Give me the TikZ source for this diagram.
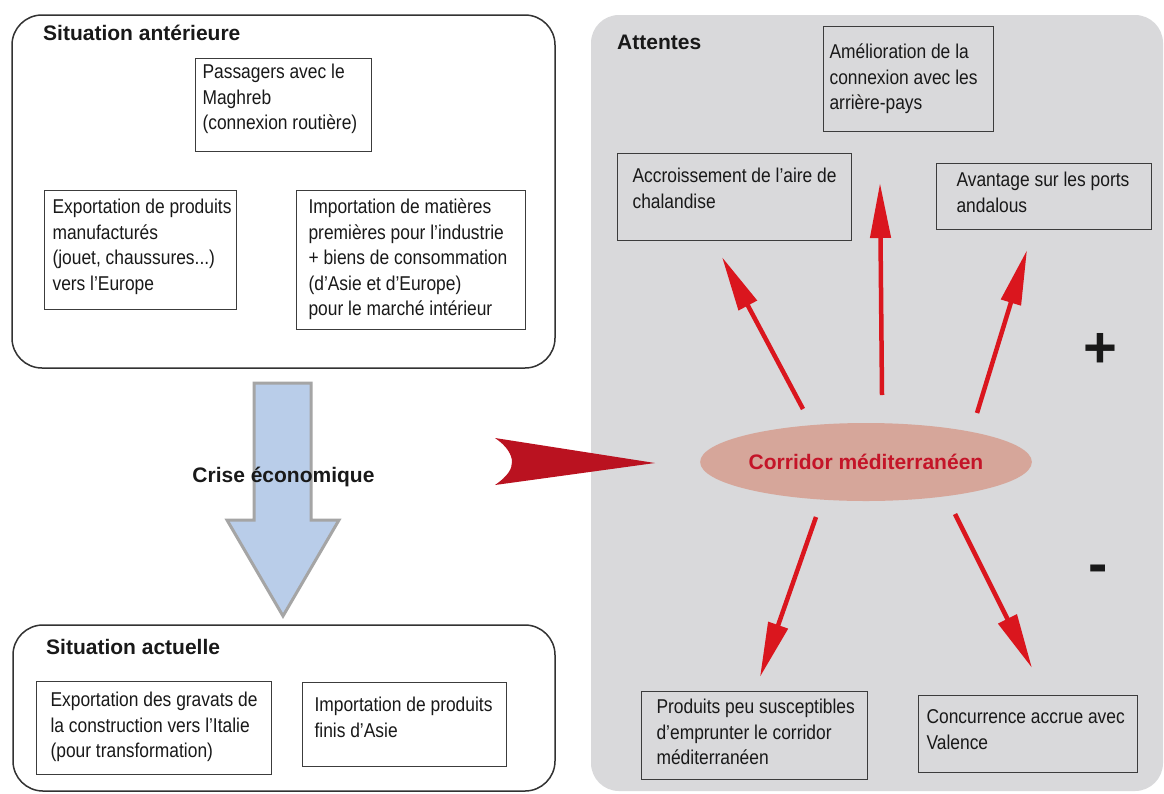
\documentclass[tikz,border=0pt]{standalone}
\usepackage{fontspec}
\setmainfont{Liberation Sans}
\newfontfamily\narrowfont{Liberation Sans}[FakeStretch=0.87]
\usetikzlibrary{arrows.meta,shapes.geometric}
\definecolor{panelgrey}{RGB}{217,217,219}
\definecolor{boxline}{RGB}{60,60,60}
\definecolor{bigline}{RGB}{50,50,50}
\definecolor{textc}{RGB}{25,25,25}
\definecolor{arrowred}{RGB}{218,22,30}
\definecolor{chevred}{RGB}{186,18,32}
\definecolor{ellfill}{RGB}{214,166,154}
\definecolor{elltext}{RGB}{196,20,40}
\definecolor{bluefill}{RGB}{185,205,233}
\definecolor{blueline}{RGB}{165,165,165}
\newcommand\bt[5]{\parbox[t][#2pt][t]{#1pt}{\hspace*{#3pt}\begin{tabular}[t]{@{}l@{}}\rule{0pt}{#4pt}#5\end{tabular}}}
\begin{document}
\begin{tikzpicture}[x=1pt,y=-1pt,
  tbox/.style={draw=boxline, line width=1.1pt, inner sep=0pt, anchor=north west,
    font=\narrowfont\fontsize{20}{25.5}\selectfont, text=textc},
  heading/.style={anchor=base west, font=\bfseries\fontsize{21}{25}\selectfont, text=textc, inner sep=0pt},
  bigbox/.style={draw=bigline, line width=1.5pt, rounded corners=30pt},
  redarrow/.style={draw=arrowred, line width=4.5pt, -{Triangle[length=55pt,width=20pt]}},
  sign/.style={font=\bfseries\fontsize{58}{60}\selectfont, inner sep=0pt, text=textc}]
\useasboundingbox (0,0) rectangle (1164,793);
\fill[white] (0,0) rectangle (1164,793);
% panels
\fill[panelgrey, rounded corners=28pt] (591,15) rectangle (1163,791);
\draw[bigbox] (12,15) rectangle (555,368);
\draw[bigbox] (13,625) rectangle (555,791);
% headings
\node[heading] (h1) at (43,40.5) {Situation antérieure};
\node[heading] (h2) at (46,654.5) {Situation actuelle};
\node[heading] (h3) at (617,49.5) {Attentes};
% boxes left
\node[tbox] (pass) at (195,58) {\bt{176}{93}{7}{20}{Passagers avec le\\Maghreb\\(connexion routière)}};
\node[tbox] (expo) at (44,190) {\bt{192}{119}{8}{23}{Exportation de produits\\manufacturés\\(jouet, chaussures...)\\vers l’Europe}};
\node[tbox] (impo) at (296,190) {\bt{229}{139}{12}{23}{Importation de matières\\premières pour l’industrie\\+ biens de consommation\\(d’Asie et d’Europe)\\pour le marché intérieur}};
\node[tbox] (grav) at (36,681) {\bt{235}{93}{14}{25}{Exportation des gravats de\\la construction vers l’Italie\\(pour transformation)}};
\node[tbox] (fini) at (302,682) {\bt{204}{84}{12}{29}{Importation de produits\\finis d’Asie}};
% boxes right
\node[tbox] (amel) at (823,26) {\bt{170}{105}{6}{32}{Amélioration de la\\connexion avec les\\arrière-pays}};
\node[tbox] (accr) at (617,153) {\bt{234}{87}{15}{29}{Accroissement de l’aire de\\chalandise}};
\node[tbox] (avan) at (936,163) {\bt{215}{66}{20}{23}{Avantage sur les ports\\andalous}};
\node[tbox] (prod) at (641,691) {\bt{226}{88}{15}{22}{Produits peu susceptibles\\d’emprunter le corridor\\méditerranéen}};
\node[tbox] (conc) at (918,695) {\bt{219}{77}{8}{28}{Concurrence accrue avec\\Valence}};
% blue arrow
\draw[fill=bluefill, draw=blueline, line width=3pt, line join=miter]
  (254,383) -- (311,383) -- (311,520) -- (339,520) -- (283,616) -- (227,520) -- (254,520) -- cycle;
\node[anchor=base, font=\bfseries\fontsize{21}{25}\selectfont, text=textc, inner sep=0pt] (crise) at (283.5,482) {Crise économique};
% red chevron
\fill[chevred] (495,438) -- (655,463) -- (495,485)
  .. controls (508,476) and (512,469) .. (512,462)
  .. controls (512,455) and (507,446) .. (495,438) -- cycle;
% ellipse
\node[ellipse, fill=ellfill, minimum width=296pt, minimum height=78pt, inner sep=0pt,
  font=\bfseries\fontsize{21}{25}\selectfont, text=elltext] (cor) at (866,462) {Corridor méditerranéen};
% red arrows
\coordinate (a1t) at (803,409); \coordinate (a1h) at (722,257);
\coordinate (a2t) at (882,395); \coordinate (a2h) at (880,183);
\coordinate (a3t) at (977,413); \coordinate (a3h) at (1027,250);
\coordinate (a4t) at (816,517); \coordinate (a4h) at (760,677);
\coordinate (a5t) at (955,514); \coordinate (a5h) at (1032,668);
\draw[redarrow] (a1t) -- (a1h);
\draw[redarrow] (a2t) -- (a2h);
\draw[redarrow] (a3t) -- (a3h);
\draw[redarrow] (a4t) -- (a4h);
\draw[redarrow] (a5t) -- (a5h);
% signs
\node[sign] (plus) at (1100,350) {+};
\node[sign] (minus) at (1098,574) {-};
\end{tikzpicture}
\end{document}
